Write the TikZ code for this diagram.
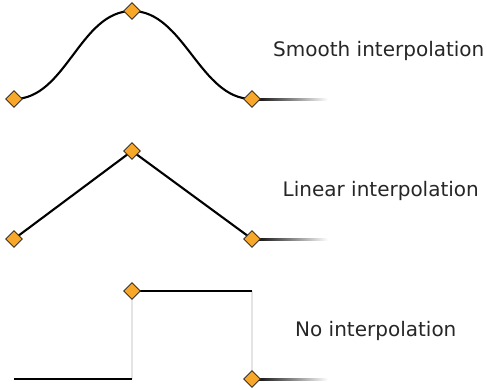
\documentclass[tikz,border=0pt]{standalone}
\usepackage{fontspec}
\setmainfont{DejaVu Sans}
\usetikzlibrary{shapes.geometric}
\definecolor{keyfill}{RGB}{247,168,42}
\definecolor{keyedge}{RGB}{60,50,40}
\definecolor{guide}{RGB}{228,228,228}
\tikzset{
  key/.style={diamond,draw=keyedge,line width=0.9pt,fill=keyfill,minimum width=17pt,minimum height=17pt,inner sep=0pt},
  curve/.style={line width=2.1pt,black},
  guideline/.style={line width=1.1pt,guide},
  label/.style={anchor=base west,font=\fontsize{20}{24}\selectfont,text=black!85,inner sep=0pt},
}
\begin{document}
\begin{tikzpicture}[x=1pt,y=-1pt]
\useasboundingbox (0,0) rectangle (487,389);
% row 1
\coordinate (s1) at (14,99);
\coordinate (s2) at (132,11);
\coordinate (s3) at (252,99);
\coordinate (s4) at (328,99);
\draw[curve] (s1) .. controls (66,99) and (80,11) .. (s2) .. controls (184,11) and (200,99) .. (s3);
\shade[left color=black,right color=white] (252,98) rectangle (328,100);
\node[key] (k1) at (s1) {};
\node[key] (k2) at (s2) {};
\node[key] (k3) at (s3) {};
\node[label] (t1) at (273,56.5) {Smooth interpolation};
% row 2
\coordinate (l1) at (14,239);
\coordinate (l2) at (132,151);
\coordinate (l3) at (252,239);
\draw[curve] (l1) -- (l2) -- (l3);
\shade[left color=black,right color=white] (252,238) rectangle (328,240);
\node[key] (m1) at (l1) {};
\node[key] (m2) at (l2) {};
\node[key] (m3) at (l3) {};
\node[label] (t2) at (282.5,196.5) {Linear interpolation};
% row 3
\coordinate (n0) at (14,379);
\coordinate (n1) at (132,379);
\coordinate (n2) at (132,291);
\coordinate (n3) at (252,291);
\coordinate (n4) at (252,379);
\draw[guideline] (n1) -- (n2);
\draw[guideline] (n3) -- (n4);
\draw[curve] (n0) -- (n1);
\draw[curve] (n2) -- (n3);
\shade[left color=black,right color=white] (252,378) rectangle (328,380);
\node[key] (p1) at (n2) {};
\node[key] (p2) at (n4) {};
\node[label] (t3) at (295,336.5) {No interpolation};
\end{tikzpicture}
\end{document}
